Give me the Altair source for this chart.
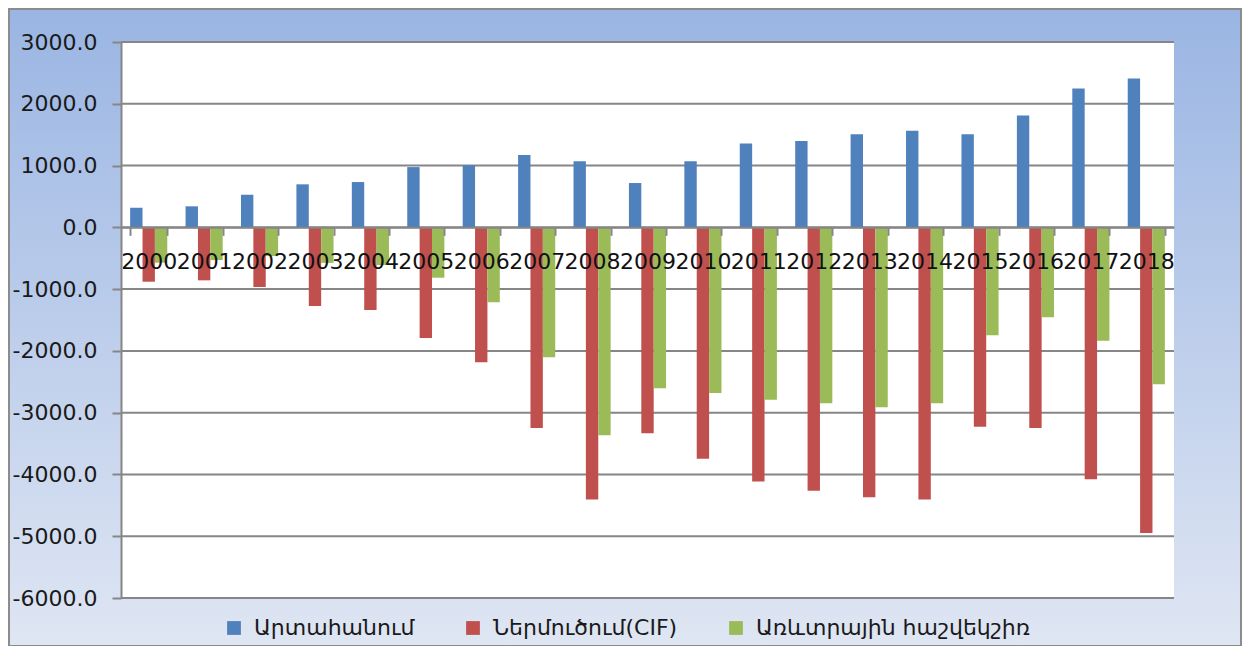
import altair as alt
import pandas as pd

years = [str(y) for y in range(2000, 2019)]
series_names = ["Արտահանում", "Ներմուծում(CIF)", "Առևտրային հաշվեկշիռ"]
exports = [317, 340, 528, 696, 733, 975, 1005, 1170, 1068, 717, 1068, 1359, 1396, 1505, 1563, 1505, 1812, 2249, 2411]
imports = [-880, -858, -966, -1273, -1338, -1791, -2185, -3248, -4407, -3333, -3744, -4116, -4262, -4369, -4407, -3226, -3248, -4078, -4947]
balance = [-572, -530, -465, -575, -610, -815, -1214, -2104, -3366, -2605, -2681, -2790, -2848, -2913, -2848, -1748, -1456, -1835, -2540]
y_ticks = [3000, 2000, 1000, 0, -1000, -2000, -3000, -4000, -5000, -6000]
colors = ["#4f81bd", "#c0504d", "#9bbb59"]

rows = []
for i, yr in enumerate(years):
    for name, vals in zip(series_names, [exports, imports, balance]):
        rows.append({"year": yr, "series": name, "value": vals[i]})
df = pd.DataFrame(rows)

W, H = 1053, 556
FONT = "DejaVu Sans"
yscale = alt.Scale(domain=[-6000, 3000], nice=False, zero=False)
yaxis = alt.Axis(
    values=y_ticks, labelExpr="replace(format(datum.value, '.1f'), '\u2212', '-')",
    labelFont=FONT, labelFontSize=22, labelColor="#1a1a1a",
    tickSize=9, tickColor="#868686", tickWidth=2, domainColor="#868686", domainWidth=2,
    labelPadding=15, grid=False, zindex=1,
)

bg = alt.Chart(pd.DataFrame({"a": [0]})).mark_rect(
    fill=alt.LinearGradient(
        gradient="linear", x1=0, y1=0, x2=0, y2=1,
        stops=[alt.GradientStop(color="#9ab5e3", offset=0),
               alt.GradientStop(color="#dfe6f3", offset=1)],
    ),
    stroke="#8c8c8c", strokeWidth=2,
).encode(x=alt.value(-112), x2=alt.value(W + 67), y=alt.value(-33), y2=alt.value(H + 48))

plotbg = alt.Chart(pd.DataFrame({"a": [0]})).mark_rect(fill="white").encode(
    x=alt.value(0), x2=alt.value(W), y=alt.value(0), y2=alt.value(H)
)

grid = alt.Chart(pd.DataFrame({"value": y_ticks})).mark_rule(color="#868686", strokeWidth=2).encode(
    y=alt.Y("value:Q", scale=yscale, title=None, axis=yaxis)
)

bars = alt.Chart(df).mark_bar().encode(
    x=alt.X(
        "year:N", sort=years, title=None,
        scale=alt.Scale(paddingInner=0.33, paddingOuter=0.165),
        axis=alt.Axis(
            orient="bottom", offset=-(H * 2 / 3), labelAngle=0, labelFont=FONT, labelFontSize=22,
            labelColor="#111111", tickBand="extent", tickSize=8, tickColor="#868686", tickWidth=2,
            domainColor="#868686", domainWidth=2, labelPadding=16, labelOverlap=False,
            labelBound=False, zindex=1, grid=False,
        ),
    ),
    xOffset=alt.XOffset("series:N", sort=series_names, scale=alt.Scale(paddingInner=0, paddingOuter=0)),
    y=alt.Y("value:Q", scale=yscale, title=None, axis=yaxis),
    color=alt.Color(
        "series:N", sort=series_names,
        scale=alt.Scale(domain=series_names, range=colors),
        legend=alt.Legend(
            title=None, orient="none", legendX=102, legendY=575, direction="horizontal",
            symbolType="square", symbolSize=190, symbolStrokeWidth=0, labelFont=FONT,
            labelFontSize=22, labelColor="#1a1a1a", columnPadding=47, labelOffset=9,
            labelLimit=0,
        ),
    ),
)

chart = alt.layer(bg, plotbg, grid, bars).properties(
    width=W, height=H,
    autosize=alt.AutoSizeParams(type="none"),
    padding={"left": 113, "top": 34, "right": 68, "bottom": 48},
).configure_view(stroke=None)

chart.save("out.html", embed_options={"renderer": "svg", "actions": False})
